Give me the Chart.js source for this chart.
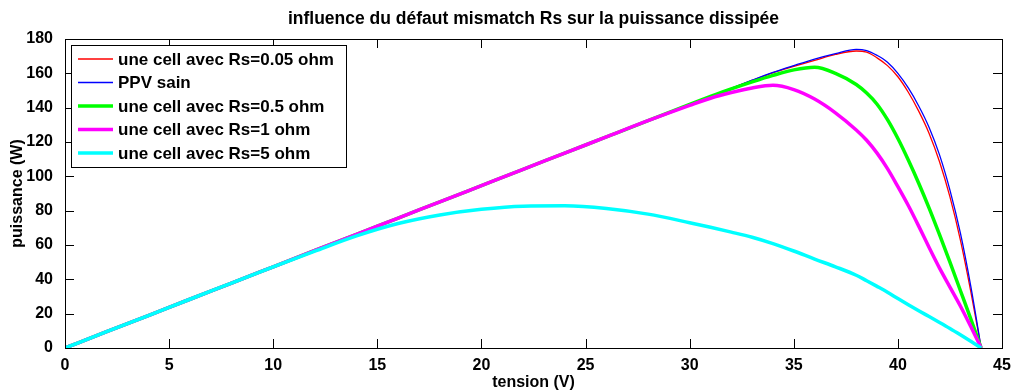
<!DOCTYPE html>
<html>
<head>
<meta charset="utf-8">
<script src="https://cdn.jsdelivr.net/npm/chart.js@4.4.1/dist/chart.umd.min.js"></script>
<style>
  html, body { margin: 0; padding: 0; background: #fff; }
</style>
</head>
<body>
<canvas id="powerChart" width="1015" height="392"></canvas>
<script>
// tension (V) shared by every curve
const volts = [0, 2, 4, 6, 8, 10, 12, 14, 16, 18, 20, 22, 24, 26, 28, 30, 31, 32, 33, 34, 35, 36, 37, 38,
  38.5, 39, 39.5, 40, 40.5, 41, 41.5, 42, 42.5, 43, 43.5, 44];

// puissance (W) for each case
const rs005 = [0, 9.5, 18.9, 28.4, 37.8, 47.3, 56.8, 66.2, 75.7, 85.1, 94.6, 104.1, 113.5, 123, 132.4, 141.9, 146.6, 151.3, 155.9, 160.3,
  164, 167.5, 171, 173, 172.3, 169, 164.5, 158, 149, 138, 125, 108.5, 88, 63, 33, 0];
const sain = [0, 9.5, 18.9, 28.4, 37.8, 47.3, 56.8, 66.2, 75.7, 85.1, 94.6, 104.1, 113.5, 123, 132.4, 141.9, 146.6, 151.3, 156, 160.5,
  164.5, 168.3, 171.5, 174, 173.3, 170.5, 166.5, 160, 151.5, 141, 128.5, 112.5, 92, 67, 36, 0];
const rs05 = [0, 9.5, 18.9, 28.4, 37.8, 47.3, 56.8, 66.2, 75.7, 85.1, 94.6, 104.1, 113.5, 123, 132.4, 141.9, 146.5, 150.9, 155, 158.8,
  162, 163.5, 160, 153.5, 148.5, 142, 133, 122, 109.5, 96, 81.5, 66, 50, 33.5, 17, 0];
const rs1 = [0, 9.5, 18.9, 28.4, 37.8, 47.3, 56.8, 66.2, 75.7, 85.1, 94.6, 104.1, 113.5, 123, 132.4, 141.3, 145.5, 148.8, 151.5, 153,
  150.5, 145, 137, 127, 121, 113.5, 104.5, 94, 83, 71, 58.5, 46.5, 35.5, 24.5, 12.5, 0];
const rs5 = [0, 9.5, 18.9, 28.4, 37.8, 47.2, 56.4, 65.3, 72.5, 77.5, 80.8, 82.6, 82.8, 81.3, 78, 73, 70.3, 67.5, 64.5, 60.8,
  56.5, 51.8, 47.3, 42.4, 39.2, 35.9, 32.5, 28.8, 25.2, 21.7, 18.3, 14.9, 11.4, 7.7, 3.9, 0];

const xTicks = [0, 5, 10, 15, 20, 25, 30, 35, 40, 45];
const yTicks = [0, 20, 40, 60, 80, 100, 120, 140, 160, 180];

const seriesLabels = ['une cell avec Rs=0.05 ohm', 'PPV sain', 'une cell avec Rs=0.5 ohm', 'une cell avec Rs=1 ohm', 'une cell avec Rs=5 ohm'];
const seriesValues = [rs005, sain, rs05, rs1, rs5];
const seriesColors = ['#ff0000', '#0000ff', '#00ff00', '#ff00ff', '#00ffff'];
const seriesWidths = [1.3, 1.3, 3.5, 3.5, 3.5];

const FONT = '"Liberation Sans", Arial, sans-serif';

// MATLAB style frame, inward ticks, title and legend box
const matlabFrame = {
  id: 'matlabFrame',
  afterDatasetsDraw(chart) {
    const { ctx, chartArea: a, scales } = chart;
    ctx.save();
    ctx.strokeStyle = '#000';
    ctx.lineWidth = 1;
    const tl = 9;
    ctx.beginPath();
    xTicks.forEach(v => {
      const px = Math.round(scales.x.getPixelForValue(v)) + 0.5;
      ctx.moveTo(px, a.bottom); ctx.lineTo(px, a.bottom - tl);
      ctx.moveTo(px, a.top); ctx.lineTo(px, a.top + tl);
    });
    yTicks.forEach(v => {
      const py = Math.round(scales.y.getPixelForValue(v)) + 0.5;
      ctx.moveTo(a.left, py); ctx.lineTo(a.left + tl, py);
      ctx.moveTo(a.right, py); ctx.lineTo(a.right - tl, py);
    });
    ctx.stroke();
    ctx.strokeRect(Math.round(a.left) + 0.5, Math.round(a.top) + 0.5, Math.round(a.right - a.left), Math.round(a.bottom - a.top));

    // title
    ctx.fillStyle = '#000';
    ctx.font = 'bold 17.5px ' + FONT;
    ctx.textAlign = 'center';
    ctx.textBaseline = 'middle';
    ctx.fillText('influence du défaut mismatch Rs sur la puissance dissipée', (a.left + a.right) / 2, 19);

    // legend
    const lx = 71, ly = 45, lw = 275, lh = 122;
    ctx.fillStyle = '#fff';
    ctx.fillRect(lx, ly, lw, lh);
    ctx.strokeRect(lx + 0.5, ly + 0.5, lw, lh);
    ctx.font = 'bold 17px ' + FONT;
    ctx.textAlign = 'left';
    chart.data.datasets.forEach((ds, i) => {
      const y = ly + 14 + i * 23.5;
      ctx.strokeStyle = ds.borderColor;
      ctx.lineWidth = ds.borderWidth;
      ctx.beginPath();
      ctx.moveTo(lx + 7, y); ctx.lineTo(lx + 42, y);
      ctx.stroke();
      ctx.fillStyle = '#000';
      ctx.fillText(ds.label, lx + 47, y + 1);
    });
    ctx.restore();
  }
};

new Chart(document.getElementById('powerChart').getContext('2d'), {
  type: 'line',
  data: {
    datasets: seriesLabels.map((label, i) => ({
      label: label,
      data: volts.map((v, j) => ({ x: v, y: seriesValues[i][j] })),
      borderColor: seriesColors[i],
      backgroundColor: seriesColors[i],
      borderWidth: seriesWidths[i],
      pointRadius: 0,
      cubicInterpolationMode: 'monotone',
      fill: false,
      order: seriesLabels.length - i
    }))
  },
  options: {
    responsive: false,
    animation: false,
    layout: { padding: { top: 39, right: 13, left: 0, bottom: 0 } },
    plugins: {
      legend: { display: false },
      title: { display: false },
      tooltip: { enabled: false }
    },
    scales: {
      x: {
        type: 'linear',
        min: 0,
        max: 45,
        afterFit: s => { s.height = 44; },
        afterBuildTicks: s => { s.ticks = xTicks.map(v => ({ value: v })); },
        grid: { display: false },
        border: { display: false },
        ticks: { color: '#000', padding: 0, maxRotation: 0, font: { family: FONT, size: 16, weight: 'bold' } },
        title: { display: true, text: 'tension (V)', color: '#000', padding: { top: 0, bottom: 0 }, font: { family: FONT, size: 16, weight: 'bold' } }
      },
      y: {
        min: 0,
        max: 180,
        afterFit: s => { s.width = 65; },
        afterBuildTicks: s => { s.ticks = yTicks.map(v => ({ value: v })); },
        grid: { display: false },
        border: { display: false },
        ticks: { color: '#000', padding: 4, font: { family: FONT, size: 16, weight: 'bold' } },
        title: { display: true, text: 'puissance (W)', color: '#000', padding: { top: 8, bottom: 0 }, font: { family: FONT, size: 16, weight: 'bold' } }
      }
    }
  },
  plugins: [matlabFrame]
});
</script>
</body>
</html>
